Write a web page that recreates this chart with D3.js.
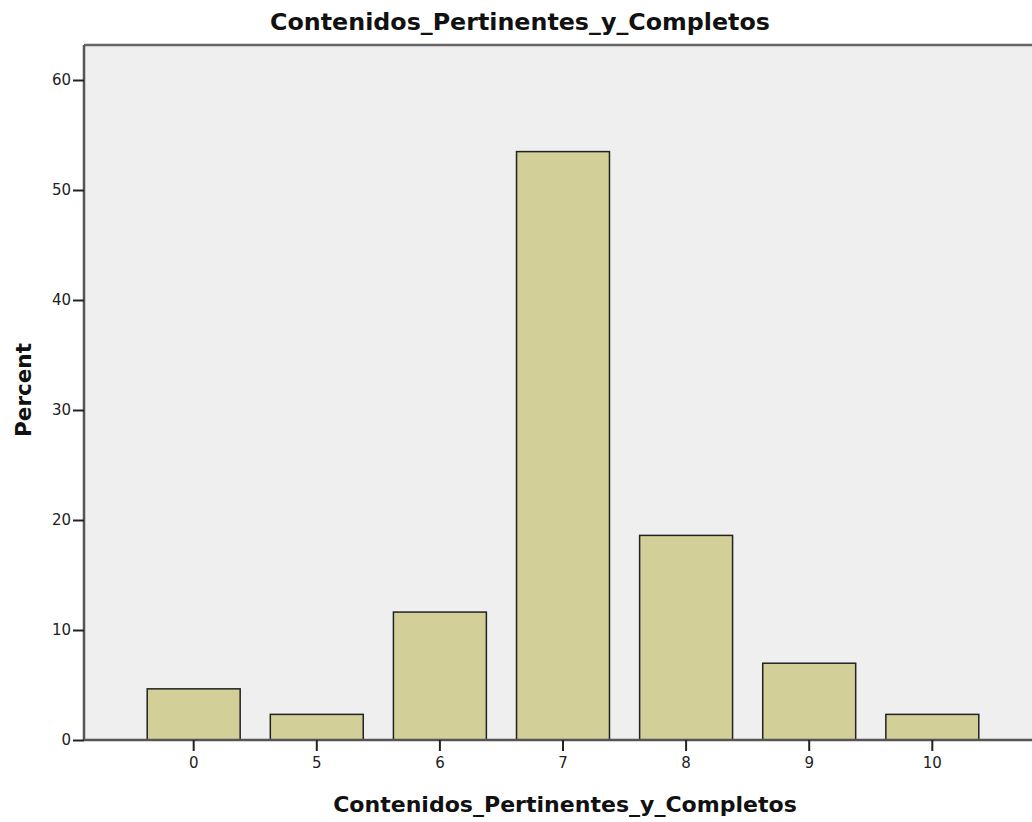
<!DOCTYPE html>
<html><head><meta charset="utf-8">
<script src="https://cdn.jsdelivr.net/npm/d3@7"></script>
<style>body{margin:0;background:#fff;}</style>
</head><body><svg id="c" width="1032" height="822"></svg>
<script>
const categories = ["0","5","6","7","8","9","10"];
const percents = [4.65, 2.33, 11.63, 53.49, 18.60, 6.98, 2.33];
const yTicks = [0,10,20,30,40,50,60];
const titleText = "Contenidos_Pertinentes_y_Completos";
const xLabel = "Contenidos_Pertinentes_y_Completos";
const yLabel = "Percent";

const FONT = "'DejaVu Sans', Verdana, sans-serif";
const svg = d3.select("#c");
const L = 84, T = 45, R = 1042, B = 740;
const x = d3.scaleBand().domain(categories).range([L, R]).paddingInner(0.245).paddingOuter(0.5135);
const y = d3.scaleLinear().domain([0, 60]).range([B, 80]);

svg.append("rect").attr("x", L).attr("y", T).attr("width", R - L).attr("height", B - T).attr("fill", "#efefef");

svg.selectAll("rect.bar").data(percents).join("rect").attr("class","bar")
  .attr("x", (d,i)=>x(categories[i])).attr("y", d=>y(d))
  .attr("width", x.bandwidth()).attr("height", d=>B - y(d))
  .attr("fill", "#d3cf98").attr("stroke", "#222").attr("stroke-width", 1.5);

svg.append("line").attr("x1", L).attr("x2", 1032).attr("y1", T).attr("y2", T).attr("stroke", "#666").attr("stroke-width", 2.5);
svg.append("line").attr("x1", L).attr("x2", L).attr("y1", T).attr("y2", B).attr("stroke", "#555").attr("stroke-width", 2.5);
svg.append("line").attr("x1", L).attr("x2", 1032).attr("y1", B).attr("y2", B).attr("stroke", "#555").attr("stroke-width", 2.5);

const yAxis = d3.axisLeft(y).tickValues(yTicks).tickSize(11).tickPadding(2);
const gy = svg.append("g").attr("transform", `translate(${L},0)`).call(yAxis);
gy.attr("font-size", null).attr("font-family", null);
gy.select(".domain").remove();
gy.selectAll(".tick line").attr("stroke", "#222").attr("stroke-width", 2);
gy.selectAll(".tick text").style("font-size", "15px").style("font-family", FONT).attr("fill", "#222");

const xAxis = d3.axisBottom(x).tickSize(11).tickPadding(6);
const gx = svg.append("g").attr("transform", `translate(0,${B})`).call(xAxis);
gx.attr("font-size", null).attr("font-family", null);
gx.select(".domain").remove();
gx.selectAll(".tick line").attr("stroke", "#222").attr("stroke-width", 2);
gx.selectAll(".tick text").style("font-size", "15px").style("font-family", FONT).attr("fill", "#222");

function fitText(sel, target) {
  const w = sel.node().getComputedTextLength();
  const fs = parseFloat(sel.style("font-size"));
  sel.style("font-size", (fs * target / w) + "px");
}
const t1 = svg.append("text").attr("x", 520).attr("y", 30).attr("text-anchor","middle").style("font-size","20px").style("font-family",FONT).attr("font-weight","bold").attr("fill","#111").text(titleText);
fitText(t1, 500);
const t2 = svg.append("text").attr("x", 565).attr("y", 812).attr("text-anchor","middle").style("font-size","20px").style("font-family",FONT).attr("font-weight","bold").attr("fill","#111").text(xLabel);
fitText(t2, 464);
const t3 = svg.append("text").attr("transform","translate(31,390) rotate(-90)").attr("text-anchor","middle").style("font-size","20px").style("font-family",FONT).attr("font-weight","bold").attr("fill","#111").text(yLabel);
fitText(t3, 94);
</script></body></html>
